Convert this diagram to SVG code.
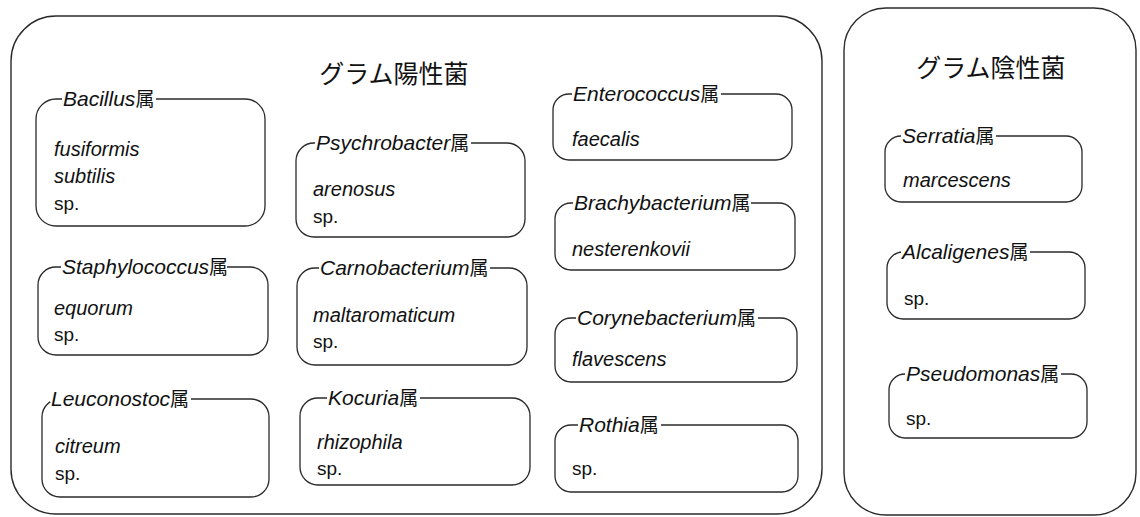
<svg xmlns="http://www.w3.org/2000/svg" width="1140" height="517" viewBox="0 0 1140 517">
<style>
.frame{fill:none;stroke:#2a2a2a;stroke-width:1.4}
.box{fill:none;stroke:#2a2a2a;stroke-width:1.3}
.gap{fill:#fff}
.lab{font-family:"Liberation Sans","Noto Sans CJK JP",sans-serif;font-style:italic;font-size:21px;fill:#111}
.lab tspan{font-style:normal;font-family:"Noto Sans CJK JP",sans-serif;font-size:19px}
.sp{font-family:"Liberation Sans","Noto Sans CJK JP",sans-serif;font-style:italic;font-size:20px;fill:#111}
.up{font-family:"Liberation Sans",sans-serif;font-size:19px;fill:#111}
.title{font-family:"Noto Sans CJK JP",sans-serif;font-size:25px;fill:#111;text-anchor:middle}
</style>
<rect width="1140" height="517" fill="#fff"/>

<g id="gram-positive">
<rect class="frame" x="11" y="16" width="811" height="498" rx="45" ry="45"/>
<text class="title" x="394" y="83">グラム陽性菌</text>
</g>

<g id="gram-negative">
<rect class="frame" x="844" y="8" width="292" height="507" rx="42" ry="42"/>
<text class="title" x="991" y="77">グラム陰性菌</text>
</g>

<g id="bacillus">
<rect class="box" x="36" y="99" width="229" height="127" rx="20"/>
<rect class="gap" x="62" y="96" width="94" height="6"/>
<text class="lab" x="63" y="106">Bacillus<tspan>属</tspan></text>
<text class="sp" x="54" y="156">fusiformis</text>
<text class="sp" x="54" y="183">subtilis</text>
<text class="up" x="54" y="210">sp.</text>
</g>

<g id="staphylococcus">
<rect class="box" x="38" y="267" width="230" height="88" rx="18"/>
<rect class="gap" x="61" y="264" width="166" height="6"/>
<text class="lab" x="62" y="274">Staphylococcus<tspan>属</tspan></text>
<text class="sp" x="54" y="315">equorum</text>
<text class="up" x="54" y="341">sp.</text>
</g>

<g id="leuconostoc">
<rect class="box" x="42" y="399" width="227" height="98" rx="18"/>
<rect class="gap" x="50" y="396" width="141" height="6"/>
<text class="lab" x="51" y="406">Leuconostoc<tspan>属</tspan></text>
<text class="sp" x="55" y="453">citreum</text>
<text class="up" x="55" y="480">sp.</text>
</g>

<g id="psychrobacter">
<rect class="box" x="296" y="143" width="229" height="94" rx="18"/>
<rect class="gap" x="315" y="140" width="156" height="6"/>
<text class="lab" x="316" y="150">Psychrobacter<tspan>属</tspan></text>
<text class="sp" x="313" y="196">arenosus</text>
<text class="up" x="313" y="223">sp.</text>
</g>

<g id="carnobacterium">
<rect class="box" x="297" y="268" width="230" height="97" rx="18"/>
<rect class="gap" x="319" y="265" width="171" height="6"/>
<text class="lab" x="320" y="275">Carnobacterium<tspan>属</tspan></text>
<text class="sp" x="313" y="322">maltaromaticum</text>
<text class="up" x="313" y="348">sp.</text>
</g>

<g id="kocuria">
<rect class="box" x="300" y="398" width="230" height="87" rx="18"/>
<rect class="gap" x="327" y="395" width="93" height="6"/>
<text class="lab" x="328" y="405">Kocuria<tspan>属</tspan></text>
<text class="sp" x="317" y="449">rhizophila</text>
<text class="up" x="317" y="475">sp.</text>
</g>

<g id="enterococcus">
<rect class="box" x="553" y="94" width="239" height="66" rx="16"/>
<rect class="gap" x="572" y="91" width="149" height="6"/>
<text class="lab" x="573" y="101">Enterococcus<tspan>属</tspan></text>
<text class="sp" x="572" y="146">faecalis</text>
</g>

<g id="brachybacterium">
<rect class="box" x="555" y="203" width="240" height="67" rx="16"/>
<rect class="gap" x="573" y="200" width="178" height="6"/>
<text class="lab" x="574" y="210">Brachybacterium<tspan>属</tspan></text>
<text class="sp" x="572" y="256">nesterenkovii</text>
</g>

<g id="corynebacterium">
<rect class="box" x="555" y="318" width="242" height="64" rx="16"/>
<rect class="gap" x="576" y="315" width="182" height="6"/>
<text class="lab" x="577" y="325">Corynebacterium<tspan>属</tspan></text>
<text class="sp" x="572" y="366">flavescens</text>
</g>

<g id="rothia">
<rect class="box" x="555" y="425" width="243" height="67" rx="16"/>
<rect class="gap" x="578" y="422" width="83" height="6"/>
<text class="lab" x="579" y="432">Rothia<tspan>属</tspan></text>
<text class="up" x="572" y="475">sp.</text>
</g>

<g id="serratia">
<rect class="box" x="885" y="136" width="197" height="66" rx="16"/>
<rect class="gap" x="901" y="133" width="95" height="6"/>
<text class="lab" x="902" y="143">Serratia<tspan>属</tspan></text>
<text class="sp" x="903" y="187">marcescens</text>
</g>

<g id="alcaligenes">
<rect class="box" x="887" y="252" width="198" height="67" rx="16"/>
<rect class="gap" x="901" y="249" width="129" height="6"/>
<text class="lab" x="902" y="259">Alcaligenes<tspan>属</tspan></text>
<text class="up" x="904" y="305">sp.</text>
</g>

<g id="pseudomonas">
<rect class="box" x="889" y="374" width="198" height="64" rx="16"/>
<rect class="gap" x="905" y="371" width="156" height="6"/>
<text class="lab" x="906" y="381">Pseudomonas<tspan>属</tspan></text>
<text class="up" x="906" y="425">sp.</text>
</g>

<g id="connectors"></g>
</svg>
